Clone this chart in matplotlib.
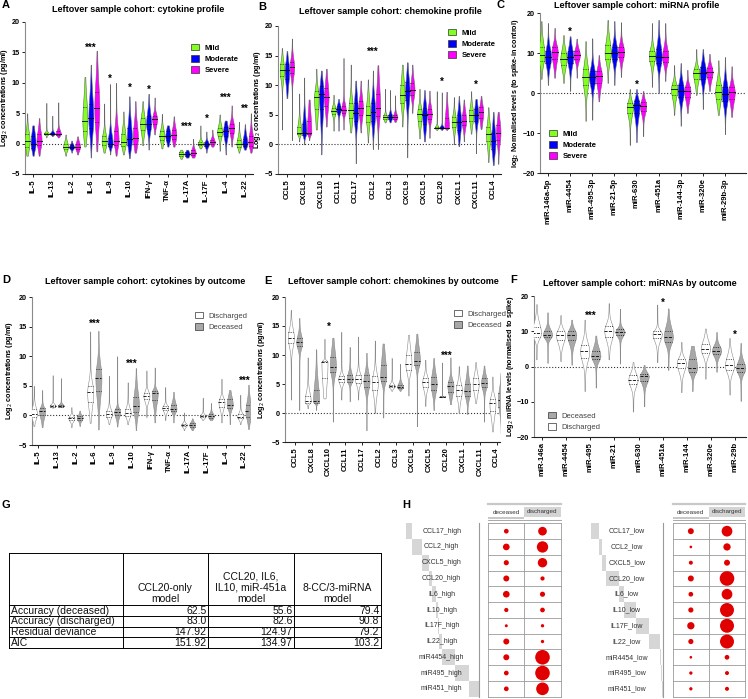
import numpy as np
import matplotlib
matplotlib.use('Agg')
import matplotlib.pyplot as plt
from matplotlib.patches import Patch, Rectangle

plt.rcParams['font.family'] = ['Liberation Sans', 'DejaVu Sans']

W, H = 748, 699

# ---------------- data: (min, q1, median, q3, max) per violin ----------------
CYTOKINES = ['IL-5', 'IL-13', 'IL-2', 'IL-6', 'IL-9', 'IL-10', 'IFN-γ', 'TNF-α',
             'IL-17A', 'IL-17F', 'IL-4', 'IL-22']
A_MILD = [(-2, -0.5, 0.5, 1.5, 5), (1, 1.5, 1.6, 1.8, 6.7), (-2, -0.9, -0.5, 0, 1.5),
          (-0.5, 2, 3.7, 6, 11), (-1.5, -0.3, 0.4, 1.2, 6.6), (-1.8, -0.4, 0.3, 1.5, 5.3),
          (-0.3, 2.2, 3.2, 4.2, 7), (-0.8, 0.6, 1.3, 2, 4.9), (-2.5, -2, -1.7, -1.4, -1),
          (-0.8, -0.3, 0, 0.3, 3), (-1.2, 1.3, 1.9, 2.6, 4.8), (-1.5, -0.5, -0.1, 0.6, 3.6)]
A_MOD = [(-2, -0.7, 0, 1.2, 3), (1.2, 1.5, 1.6, 1.8, 4.6), (-1.5, -0.8, -0.6, -0.3, 0.5),
         (-2.3, 2.5, 4.2, 6.5, 13), (-1.8, -0.4, 0, 1, 9.8), (-2.4, -0.2, 0.8, 2.5, 7.8),
         (-1, 2.4, 3.3, 4.5, 8.2), (-0.5, 0.6, 1.2, 2, 3), (-2.3, -2, -1.7, -1.4, -1),
         (-1.5, -0.4, -0.1, 0.2, 2), (-1.8, 1.2, 2, 2.8, 3.8), (-1, -0.4, 0, 0.8, 3.2)]
A_SEV = [(-2, -0.3, 0.5, 1.5, 4.2), (1, 1.4, 1.6, 2, 6.8), (-1.8, -0.9, -0.5, 0, 1.2),
         (-1.3, 3.5, 5.8, 8.5, 15.3), (-2, -0.3, 0.5, 2, 10), (-1.5, 0, 1, 2.5, 7),
         (1.5, 3.3, 4, 4.6, 7.6), (-0.5, 0.7, 1.4, 2.2, 4.5), (-2.3, -1.9, -1.5, -1.1, 0.8),
         (-0.5, -0.1, 0.2, 0.6, 2.3), (-0.5, 1.8, 2.6, 3.3, 6.3), (-1.5, -0.4, 0.2, 1.2, 5)]
A_STARS = [(3, '***', 15.8), (4, '*', 10.6), (5, '*', 9.1), (6, '*', 8.9),
           (8, '***', 2.8), (9, '*', 4.0), (10, '***', 7.6), (11, '**', 5.7)]

CHEMOKINES = ['CCL5', 'CXCL8', 'CXCL10', 'CCL11', 'CCL17', 'CCL2', 'CCL3', 'CXCL9',
              'CXCL5', 'CCL20', 'CXCL1', 'CXCL11', 'CCL4']
B_MILD = [(2.5, 11.5, 12.5, 13.5, 16.3), (0.5, 1.7, 2, 3, 8.6), (2.5, 6, 8, 9, 12.8),
          (2.3, 5.2, 5.7, 6.2, 8.4), (2, 4.5, 5.8, 7, 13.5), (0.3, 3.8, 5, 6.5, 11),
          (3.7, 4.3, 4.6, 4.9, 9.4), (3, 7, 8.3, 10, 13.5), (1, 4, 5.2, 6, 9.4),
          (2.4, 2.7, 2.8, 3, 9), (0, 3, 3.8, 4.6, 8), (1.8, 4, 4.9, 5.8, 9), (-3, 0.5, 1.8, 3, 6.3)]
B_MOD = [(7.8, 11, 12.5, 13.5, 15.8), (0, 1.6, 2, 3.5, 11.3), (-1.7, 6, 8.5, 9.8, 12.5),
         (2.3, 5.5, 6, 6.5, 7.7), (-3.2, 4, 5.3, 7, 10.8), (-0.8, 4, 5.5, 7, 12.5),
         (3.7, 4.3, 4.6, 5, 9.2), (-2.2, 7.5, 9, 10.5, 13.9), (0.5, 3.5, 5, 6.2, 9.2),
         (2.4, 2.7, 2.8, 3, 8.8), (-0.3, 2.5, 3.8, 5, 8.2), (-1.5, 4, 4.9, 6, 7.7),
         (-3.5, -0.8, 0.5, 2, 5.5)]
B_SEV = [(0.7, 12, 13, 14, 17.9), (0.7, 1.7, 2, 4, 7.6), (3, 6.5, 8, 9.5, 12.8),
         (2.5, 5.3, 5.8, 6.5, 14.6), (2, 5, 6.1, 7.3, 10.8), (-0.8, 4.8, 6.1, 8.5, 13.4),
         (3.8, 4.3, 4.6, 5, 8.3), (5.3, 8.3, 9.2, 10.3, 13.5), (1.1, 4.3, 5.1, 6, 9.1),
         (2.4, 2.7, 2.8, 4.5, 8.9), (0.5, 3.2, 4, 5, 7.6), (2.6, 4.5, 5.5, 6.3, 8.2),
         (-3.3, 0.8, 2, 3.3, 5.5)]
B_STARS = [(5, '***', 15.6), (9, '*', 10.6), (11, '*', 10.0)]

MIRNAS_C = ['miR-146a-5p', 'miR-4454', 'miR-495-3p', 'miR-21-5p', 'miR-630', 'miR-451a',
            'miR-144-3p', 'miR-320e', 'miR-29b-3p']
C_MILD = [(3.5, 8, 9.5, 11.5, 18), (2.5, 7, 8.5, 10, 14.5), (-7, 2, 4, 6, 13),
          (2.5, 8.5, 10, 12, 18.3), (-13, -5, -3.5, -2.5, 1), (1.5, 8, 9.3, 10.5, 17.5),
          (-5.5, -0.5, 1, 2, 7), (-0.5, 3.5, 5, 6, 11), (-5.5, -1.5, 0.3, 2, 8.2)]
C_MOD = [(2, 7.5, 9, 10.5, 17.5), (0.5, 7.5, 9, 10.5, 14.2), (-6.7, 2.5, 4, 5.5, 13.7),
         (2, 8.5, 10, 11.5, 18), (-12.3, -5, -3, -2, 1), (0, 7.5, 9, 11, 18.3),
         (-8.2, -1, 0.5, 2, 7.5), (-4, 3.5, 5, 6.5, 11), (-10.3, -2, -0.3, 1.5, 9)]
C_SEV = [(3.8, 8.5, 10.3, 11.5, 16.3), (3.8, 8.5, 9.5, 10.5, 13.6), (-2.1, 2.5, 4.2, 5.5, 9.5),
         (4, 9, 10.3, 11.5, 17.7), (-10.8, -4.5, -3.3, -2.3, 0.5), (3, 7.8, 9, 10.5, 17.5),
         (-5, -1, 0.5, 1.5, 5.8), (0.5, 4, 5.3, 6.3, 9.8), (-6, -1.5, 0.2, 1.5, 6.7)]
C_STARS = [(1, '*', 15.4), (4, '*', 2.0)]

D_DIS = [(-1.8, -0.3, 0.3, 1, 5), (1.3, 1.5, 1.6, 1.8, 6.8), (-2, -0.8, -0.5, -0.2, 1.4),
         (-1.3, 2.3, 3.9, 5, 14.2), (-1.5, -0.2, 0.3, 0.8, 6.7), (-1.5, -0.1, 0.4, 1, 5.6),
         (-0.3, 2.7, 3.3, 3.8, 7.6), (-0.8, 0.9, 1.3, 1.6, 4.8), (-2.5, -1.8, -1.6, -1.4, 0.5),
         (-0.8, -0.3, -0.1, 0.1, 3), (-1.2, 1.5, 2.2, 2.7, 6.2), (-1.5, -0.5, -0.2, 0.2, 3.5)]
D_DEC = [(-2, 0, 0.8, 1.2, 4.3), (1.4, 1.5, 1.6, 1.8, 6.3), (-1.8, -0.7, -0.4, -0.1, 0.8),
         (-2.4, 4.2, 6.3, 7.8, 14.3), (-1.9, 0, 0.6, 1, 10), (-2.5, 0.6, 1.6, 3.1, 8),
         (-1.2, 2.6, 3.8, 4.2, 8.1), (-1.2, 0.7, 1.1, 1.8, 4), (-2.5, -1.9, -1.6, -1.3, -0.5),
         (-0.8, -0.4, -0.1, 0.2, 2.1), (-1.5, 1.3, 1.8, 2.7, 4.3), (-2.3, -0.2, 0.7, 1.8, 5.2)]
D_STARS = [(3, '***', 15.5), (5, '***', 8.7), (11, '***', 5.8)]

E_DIS = [(2.3, 12, 13, 14, 17.8), (0.8, 1.8, 2, 3, 9.6), (2.5, 6, 8.8, 9, 12.8),
         (2.3, 5.3, 5.8, 6.3, 14), (2.3, 5.2, 5.8, 6.5, 13.2), (0, 4, 5.3, 6.3, 12.5),
         (3.8, 4.4, 4.6, 4.9, 9.5), (3, 7.5, 8.4, 10, 13.5), (1.2, 4.5, 5.3, 6, 9.2),
         (2.7, 2.75, 2.8, 2.85, 8.7), (0, 3, 4, 4.8, 8.1), (1.7, 4, 5, 6, 8.8),
         (-3.2, 0.3, 1.7, 2.5, 6.3)]
E_DEC = [(0.5, 11.5, 12.2, 13, 16.4), (0.5, 1.8, 2, 4, 11), (-1.5, 7, 8, 9.7, 13),
         (2, 5.4, 5.8, 6.5, 11.4), (-3, 4.5, 5.5, 6.5, 10.4), (-0.8, 5.5, 6.2, 8.3, 12),
         (3.8, 4.3, 4.5, 4.9, 8.5), (-2.3, 8.3, 9, 10.5, 13.7), (0.5, 4, 5, 6.2, 9.5),
         (1.5, 3.7, 4.7, 5.4, 9.6), (-0.2, 3, 3.8, 5, 8.2), (-1.5, 4.5, 5.2, 6, 8.2),
         (-3.5, 1, 2.2, 3.5, 7)]
E_STARS = [(2, '*', 14.8), (9, '***', 9.9)]

MIRNAS_F = ['miR-146a', 'miR-4454', 'miR-495', 'miR-21', 'miR-630', 'miR-451a', 'miR-144',
            'miR-320e', 'miR-29b']
F_DIS = [(2, 8.5, 9.5, 11.3, 17.7), (1.5, 7.5, 9, 10, 14.6), (-7, 2.5, 4.3, 6, 13.3),
         (2, 8.5, 10.2, 11.5, 18), (-12.8, -5, -3.7, -2.5, 1.3), (1.2, 8, 9.3, 10, 17.6),
         (-7.3, -0.5, 1, 2, 7), (-3.5, 3.8, 5, 6.5, 10.8), (-8, -1, 0.3, 2, 8.1)]
F_DEC = [(1, 8.3, 9, 10, 15.4), (0.5, 7.5, 9, 10, 13.3), (-6, 2, 3, 4.5, 8.8),
         (0.8, 9, 9.8, 10.5, 16.4), (-11.3, -4, -2.8, -2, 0.5), (-1, 7, 8.3, 10.2, 16.5),
         (-7, -1.5, -0.5, 2, 5.9), (-1.5, 3.5, 4.5, 5.5, 9.8), (-9.8, -1.5, -0.5, 0.8, 6.7)]
F_STARS = [(2, '***', 14.3), (5, '*', 18.1), (8, '*', 9.0)]

# table G
G_COLS = ['', 'CCL20-only\nmodel', 'CCL20, IL6,\nIL10, miR-451a\nmodel', '8-CC/3-miRNA\nmodel']
G_ROWS = ['Accuracy (deceased)', 'Accuracy (discharged)', 'Residual deviance', 'AIC']
G_VALUES = [['62.5', '55.6', '79.4'], ['83.0', '82.6', '90.8'],
            ['147.92', '124.97', '79.2'], ['151.92', '134.97', '103.2']]

# balloon plot H
H_HIGH = ['CCL17_high', 'CCL2_high', 'CXCL5_high', 'CCL20_high', 'IL6_high', 'IL10_high',
          'IL17F_high', 'IL22_high', 'miR4454_high', 'miR495_high', 'miR451_high']
H_LOW = ['CCL17_low', 'CCL2_low', 'CXCL5_low', 'CCL20_low', 'IL6_low', 'IL10_low',
         'IL17F_low', 'IL22_low', 'miR4454_low', 'miR495_low', 'miR451_low']
H_HIGH_DEC = [5, 10, 6, 8, 10, 4, 2, 8, 8, 5, 5]
H_HIGH_DIS = [17, 29, 20, 4, 6, 5, 2.5, 2.5, 48, 48, 36]
H_LOW_DEC = [8, 1.6, 3.6, 8, 5, 6, 12, 6, 1.6, 2.5, 2.5]
H_LOW_DIS = [26, 12, 8, 48, 26, 44, 44, 44, 5, 3.6, 3.6]
H_HIGH_TOT = [6, 10, 7, 3, 4, 2, 1, 4, 13, 14, 10]
H_LOW_TOT = [8, 3, 4, 13, 5, 13, 13, 11, 1, 1, 1]

GREEN, BLUE, MAGENTA = '#80ff20', '#0000ff', '#ff00ff'
WHITE, GREY = '#ffffff', '#a8a8a8'


def rect(l, t, r, b):
    return [l / W, 1 - b / H, (r - l) / W, (b - t) / H]


def violin(ax, x, stats, color, hw, outcome=False):
    lo, q1, med, q3, hi = stats
    y = np.linspace(lo, hi, 300)
    sl = max(med - q1, 0.05) / 0.674
    sh = max(q3 - med, 0.05) / 0.674
    z = np.where(y < med, (y - med) / sl, (y - med) / sh)
    d = np.exp(-0.5 * z ** 2) + 0.07 * np.exp(-0.5 * (z / 3) ** 2) + 0.035
    d[0] = d[-1] = 0
    w = hw * d / d.max()
    edge = '#8a8a8a' if outcome else '#666666'
    ax.fill_betweenx(y, x - w, x + w, facecolor=color, edgecolor=edge, lw=0.4, zorder=3)
    med_ls = '--' if outcome else '-'
    for val, ls in ((med, med_ls), (q1, ':'), (q3, ':')):
        wi = np.interp(val, y, w)
        ax.plot([x - wi, x + wi], [val, val], color='k', lw=0.6, ls=ls, zorder=4)


def style_axes(ax, labels, ylim, yticks, xlim, ylabel, label_x, box):
    ax.set_xlim(*xlim)
    ax.set_ylim(*ylim)
    ax.set_yticks(yticks)
    ax.set_xticks(range(len(labels)))
    ax.set_xticklabels(labels, rotation=90, fontsize=5.5, fontweight='bold')
    for t in ax.get_yticklabels():
        t.set_fontsize(5.2)
        t.set_fontweight('bold')
    ax.spines['top'].set_visible(False)
    ax.spines['right'].set_visible(False)
    ax.spines['left'].set_color('#8a8a8a')
    ax.spines['bottom'].set_color('#222222')
    ax.tick_params(length=2.5, width=0.6, pad=1.2)
    ax.axhline(0, color='#333333', ls=':', lw=0.8, zorder=1)
    ax.set_ylabel(ylabel, fontsize=5.2, fontweight='bold')
    l, r = box
    ax.yaxis.set_label_coords((label_x + 3 - l) / (r - l), 0.5)
    ax.patch.set_alpha(0)


def stars(ax, items):
    for i, s, yv in items:
        ax.text(i, yv, s, ha='center', va='center', fontsize=7, fontweight='bold')


def legend(ax, colors, names, x, y, bold=True):
    handles = [Patch(facecolor=c, edgecolor='#333333', lw=0.5) for c in colors]
    lg = ax.legend(handles, names, loc='upper left', bbox_to_anchor=(x / W, 1 - y / H),
                   bbox_transform=ax.figure.transFigure, frameon=False, fontsize=5.5,
                   handlelength=1.1, handleheight=0.9, labelspacing=0.45, borderpad=0,
                   handletextpad=0.7, borderaxespad=0)
    for t in lg.get_texts():
        t.set_fontweight('bold' if bold else 'normal')
        if not bold:
            t.set_color('#444444')


def main():
    fig = plt.figure(figsize=(W / 100, H / 100), dpi=100)
    conc = 'Log$_2$ concentrations (pg/ml)'

    # ---- A ----
    ax = fig.add_axes(rect(25, 22, 253, 174))
    for i in range(len(CYTOKINES)):
        for off, data, col in ((-0.31, A_MILD, GREEN), (0, A_MOD, BLUE), (0.31, A_SEV, MAGENTA)):
            violin(ax, i + off, data[i], col, 0.13)
    style_axes(ax, CYTOKINES, (-5, 20), range(-5, 21, 5), (-0.42, 11.42), conc, 7.5, (25, 253))
    stars(ax, A_STARS)
    legend(ax, [GREEN, BLUE, MAGENTA], ['Mild', 'Moderate', 'Severe'], 191, 44)

    # ---- B ----
    ax = fig.add_axes(rect(278, 26, 501, 174))
    for i in range(len(CHEMOKINES)):
        for off, data, col in ((-0.29, B_MILD, GREEN), (0, B_MOD, BLUE), (0.29, B_SEV, MAGENTA)):
            violin(ax, i + off, data[i], col, 0.13)
    style_axes(ax, CHEMOKINES, (-5, 20), range(-5, 21, 5), (-0.52, 12.45), conc, 260, (278, 501))
    stars(ax, B_STARS)
    legend(ax, [GREEN, BLUE, MAGENTA], ['Mild', 'Moderate', 'Severe'], 448, 29)

    # ---- C ----
    ax = fig.add_axes(rect(540, 13, 746, 173))
    for i in range(len(MIRNAS_C)):
        for off, data, col in ((-0.3, C_MILD, GREEN), (0, C_MOD, BLUE), (0.3, C_SEV, MAGENTA)):
            violin(ax, i + off, data[i], col, 0.14)
    style_axes(ax, MIRNAS_C, (-20, 20), range(-20, 21, 10), (-0.36, 8.95),
               'log$_2$ Normalised levels (to spike-in control)', 518, (540, 746))
    stars(ax, C_STARS)
    legend(ax, [GREEN, BLUE, MAGENTA], ['Mild', 'Moderate', 'Severe'], 549, 130)

    # ---- D ----
    ax = fig.add_axes(rect(32, 297, 250, 445))
    for i in range(len(CYTOKINES)):
        violin(ax, i - 0.22, D_DIS[i], WHITE, 0.16, True)
        violin(ax, i + 0.22, D_DEC[i], GREY, 0.16, True)
    style_axes(ax, CYTOKINES, (-5, 20), range(-5, 21, 5), (-0.32, 11.3), conc, 12, (32, 250))
    stars(ax, D_STARS)
    legend(ax, [WHITE, GREY], ['Discharged', 'Deceased'], 195, 312, bold=False)

    # ---- E ----
    ax = fig.add_axes(rect(285, 297, 500, 442))
    for i in range(len(CHEMOKINES)):
        violin(ax, i - 0.25, E_DIS[i], WHITE, 0.18, True)
        violin(ax, i + 0.25, E_DEC[i], GREY, 0.18, True)
    style_axes(ax, CHEMOKINES, (-5, 20), range(-5, 21, 5), (-0.6, 12.2), conc, 264, (285, 500))
    stars(ax, E_STARS)
    legend(ax, [WHITE, GREY], ['Discharged', 'Deceased'], 454, 310, bold=False)

    # ---- F ----
    ax = fig.add_axes(rect(534, 296, 746, 437))
    for i in range(len(MIRNAS_F)):
        violin(ax, i - 0.23, F_DIS[i], WHITE, 0.19, True)
        violin(ax, i + 0.23, F_DEC[i], GREY, 0.19, True)
    style_axes(ax, MIRNAS_F, (-20, 20), range(-20, 21, 10), (-0.33, 8.45),
               'Log$_2$ miRNA levels (normalised to spike)', 513, (534, 746))
    stars(ax, F_STARS)
    legend(ax, [GREY, WHITE], ['Deceased', 'Discharged'], 548, 412, bold=False)

    # ---- overlay in pixel coordinates: titles, letters, table G, balloon plot H ----
    ov = fig.add_axes([0, 0, 1, 1])
    ov.set_xlim(0, W)
    ov.set_ylim(H, 0)
    ov.axis('off')
    ov.patch.set_alpha(0)

    titles = [(138, 10, 'Leftover sample cohort: cytokine profile'),
              (390, 12, 'Leftover sample cohort: chemokine profile'),
              (637, 5, 'Leftover sample cohort: miRNA profile'),
              (145, 282, 'Leftover sample cohort: cytokines by outcome'),
              (393, 282, 'Leftover sample cohort: chemokines by outcome'),
              (640, 283, 'Leftover sample cohort: miRNAs by outcome')]
    for x, y, t in titles:
        ov.text(x, y, t, ha='center', va='center', fontsize=6.5, fontweight='bold')
    letters = [(2, 5, 'A'), (258, 7, 'B'), (497, 5, 'C'), (2, 280, 'D'),
               (264, 281, 'E'), (510, 280, 'F'), (2, 505, 'G'), (402, 505, 'H')]
    for x, y, t in letters:
        ov.text(x, y, t, ha='left', va='center', fontsize=8, fontweight='bold')

    # table G
    xs = [9.3, 122.7, 208, 294, 380.7]
    ys = [552.7, 605.3, 616, 626.7, 637.3, 648.3]
    for x in xs:
        ov.plot([x, x], [ys[0], ys[-1]], color='k', lw=0.7)
    for y in ys:
        ov.plot([xs[0], xs[-1]], [y, y], color='k', lw=0.7)
    for j, txt in enumerate(G_COLS[1:]):
        ov.text((xs[j + 1] + xs[j + 2]) / 2, ys[1] - 1.5, txt, ha='center', va='bottom',
                fontsize=7.5, linespacing=1.15, color='#111111')
    for r, name in enumerate(G_ROWS):
        yc = (ys[r + 1] + ys[r + 2]) / 2
        ov.text(xs[0] + 1.5, yc, name, ha='left', va='center', fontsize=7.5, color='#111111')
        for j, v in enumerate(G_VALUES[r]):
            ov.text(xs[j + 2] - 1.5, yc, v, ha='right', va='center', fontsize=7.5,
                    color='#111111')

    # balloon plot H (two blocks)
    row_h = (696.7 - 523.3) / len(H_HIGH)
    blocks = [(H_HIGH, H_HIGH_DEC, H_HIGH_DIS, H_HIGH_TOT, 406, 479, 441.7, 488.3, 524.3, 560.7),
              (H_LOW, H_LOW_DEC, H_LOW_DIS, H_LOW_TOT, 590.7, 663.3, 626.7, 672.7, 709, 745)]
    for names, dec, dis, tot, bx0, bx1, lx, x0, xm, x1 in blocks:
        top, bot = 523.3, 696.7
        # header
        ov.plot([x0, x1], [504, 504], color='#c8c8c8', lw=1.6)
        ov.add_patch(Rectangle((xm, 506.5), x1 - xm, 10, facecolor='#d4d4d4', lw=0))
        ov.add_patch(Rectangle((x0, 516.8), xm - x0, 2.6, facecolor='#c8c8c8', lw=0))
        ov.plot([x0, x1], [519.6, 519.6], color='#9a9a9a', lw=0.6)
        ov.text((x0 + xm) / 2, 512, 'deceased', ha='center', va='center', fontsize=4.5,
                color='#333333')
        ov.text((xm + x1) / 2, 511.5, 'discharged', ha='center', va='center', fontsize=4.5,
                color='#333333')
        # row marginal bars
        scale = (bx1 - bx0) / sum(tot)
        cx = bx0
        for r, t in enumerate(tot):
            ov.add_patch(Rectangle((cx, top + r * row_h), t * scale, row_h,
                                   facecolor='#d6d6d6', lw=0))
            cx += t * scale
        ov.plot([bx1, bx1], [top, bot], color='#9a9a9a', lw=0.8)
        # grid
        for r in range(len(names) + 1):
            ov.plot([x0, x1], [top + r * row_h] * 2, color='#9a9a9a', lw=0.6)
        for x in (x0, xm, x1):
            ov.plot([x, x], [top, bot], color='#9a9a9a', lw=0.6)
        yc = top + (np.arange(len(names)) + 0.5) * row_h
        for r, name in enumerate(names):
            ov.text(lx, yc[r], name, ha='center', va='center', fontsize=5, color='#333333')
        ov.scatter([(x0 + xm) / 2] * len(names), yc, s=np.array(dec) * 2.3, color='#e00000',
                   lw=0, zorder=5)
        ov.scatter([(xm + x1) / 2] * len(names), yc, s=np.array(dis) * 2.3, color='#e00000',
                   lw=0, zorder=5)

    fig.savefig('out.png', dpi=100)


if __name__ == '__main__':
    main()
